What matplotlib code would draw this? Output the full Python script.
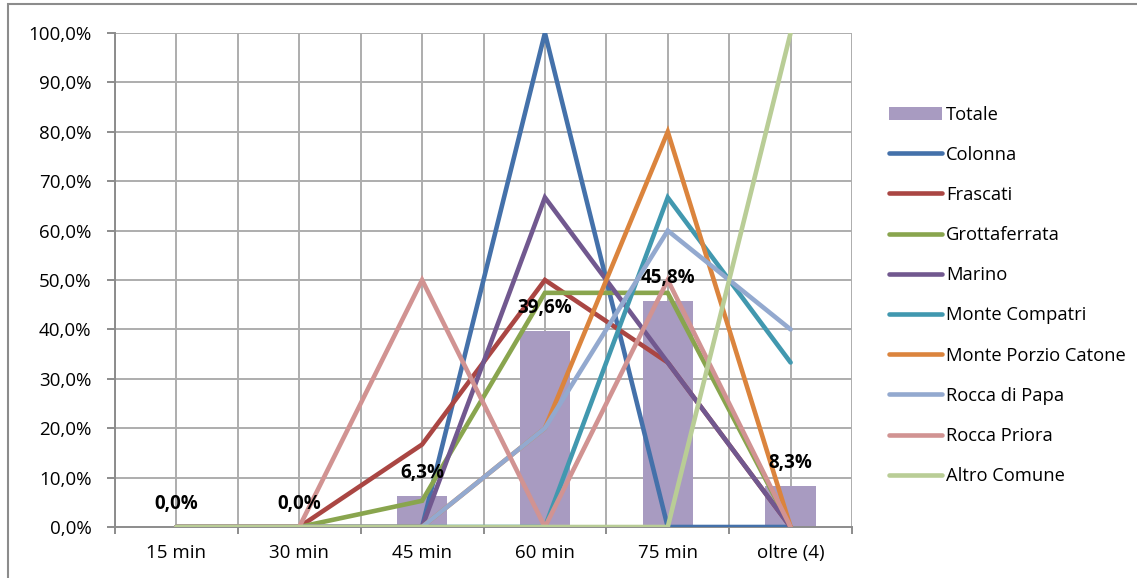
import matplotlib
matplotlib.use("Agg")
import matplotlib.pyplot as plt
from matplotlib.ticker import FuncFormatter, MultipleLocator
from matplotlib.patches import Rectangle
import numpy as np

categories = ["15 min", "30 min", "45 min", "60 min", "75 min", "oltre (4)"]
totale = [0.0, 0.0, 6.3, 39.6, 45.8, 8.3]
colonna = [0, 0, 0, 100, 0, 0]
frascati = [0, 0, 16.7, 50, 33.3, 0]
grottaferrata = [0, 0, 5.3, 47.4, 47.4, 0]
marino = [0, 0, 0, 66.7, 33.3, 0]
monte_compatri = [0, 0, 0, 0, 66.7, 33.3]
monte_porzio = [0, 0, 0, 20, 80, 0]
rocca_di_papa = [0, 0, 0, 20, 60, 40]
rocca_priora = [0, 0, 50, 0, 50, 0]
altro_comune = [0, 0, 0, 0, 0, 100]

series = [
    ("Colonna", colonna, "#4471AA"),
    ("Frascati", frascati, "#AA4643"),
    ("Grottaferrata", grottaferrata, "#89A54E"),
    ("Marino", marino, "#71588F"),
    ("Monte Compatri", monte_compatri, "#4198AF"),
    ("Monte Porzio Catone", monte_porzio, "#DB843D"),
    ("Rocca di Papa", rocca_di_papa, "#93A9CF"),
    ("Rocca Priora", rocca_priora, "#D19392"),
    ("Altro Comune", altro_comune, "#B9CD96"),
]

plt.rcParams['font.family'] = ['Open Sans', 'DejaVu Sans']

W, H = 1137, 578
fig = plt.figure(figsize=(W / 100, H / 100), dpi=100)
ax = fig.add_axes([115 / W, 1 - 527 / H, (852 - 115) / W, (527 - 33) / H])

x = np.arange(len(categories))
grid_c = "#ADADAD"
for gx in np.arange(-0.5, len(categories), 0.5):
    ax.axvline(gx, color=grid_c, lw=1.4, zorder=0)
for gy in range(10, 101, 10):
    ax.axhline(gy, color=grid_c, lw=1.4, zorder=0)

bars = ax.bar(x, totale, width=0.41, color="#A89BC1", label="Totale", zorder=2)
for xi, v in zip(x, totale):
    ax.annotate(f"{v:.1f}%".replace(".", ","), (xi, v), xytext=(0, 16.5),
                textcoords="offset points", ha="center", va="center",
                fontsize=13.5, fontweight="bold", zorder=6)

for name, vals, col in series:
    ax.plot(x, vals, color=col, lw=3.3, label=name, zorder=3,
            solid_capstyle="round", solid_joinstyle="miter")

ax.set_xlim(-0.5, len(categories) - 0.5)
ax.set_ylim(0, 100)
ax.set_xticks(np.arange(-0.5, len(categories), 1.0))
ax.set_xticklabels([])
ax.set_xticks(x, minor=True)
ax.set_xticklabels(categories, minor=True, fontsize=13.5)
ax.tick_params(axis="x", which="minor", length=0, pad=12)
ax.tick_params(axis="x", which="major", length=5, width=1.4, color="#8C8C8C")
ax.yaxis.set_major_locator(MultipleLocator(10))
ax.yaxis.set_major_formatter(FuncFormatter(lambda v, p: f"{v:.1f}%".replace(".", ",")))
ax.tick_params(axis="y", length=6, width=1.4, color="#8C8C8C", labelsize=13.5, pad=11)
for s in ["top", "right"]:
    ax.spines[s].set_visible(False)
for s in ["left", "bottom"]:
    ax.spines[s].set_color("#8C8C8C")
    ax.spines[s].set_linewidth(1.4)

handles, labels = ax.get_legend_handles_labels()
order = [labels.index("Totale")] + [i for i, l in enumerate(labels) if l != "Totale"]
leg = fig.legend([handles[i] for i in order], [labels[i] for i in order],
                 loc="upper left", bbox_to_anchor=(872 / W, 1 - 89 / H),
                 frameon=False, fontsize=13.2, handlelength=2.9,
                 labelspacing=1.21, handletextpad=0.25)

fig.patches.append(Rectangle((8 / W, -0.1), 1.2, 1 - 4.5 / H + 0.1, transform=fig.transFigure,
                             fill=False, edgecolor="#8C8C8C", lw=1.5))

fig.savefig("out.png", dpi=100)
